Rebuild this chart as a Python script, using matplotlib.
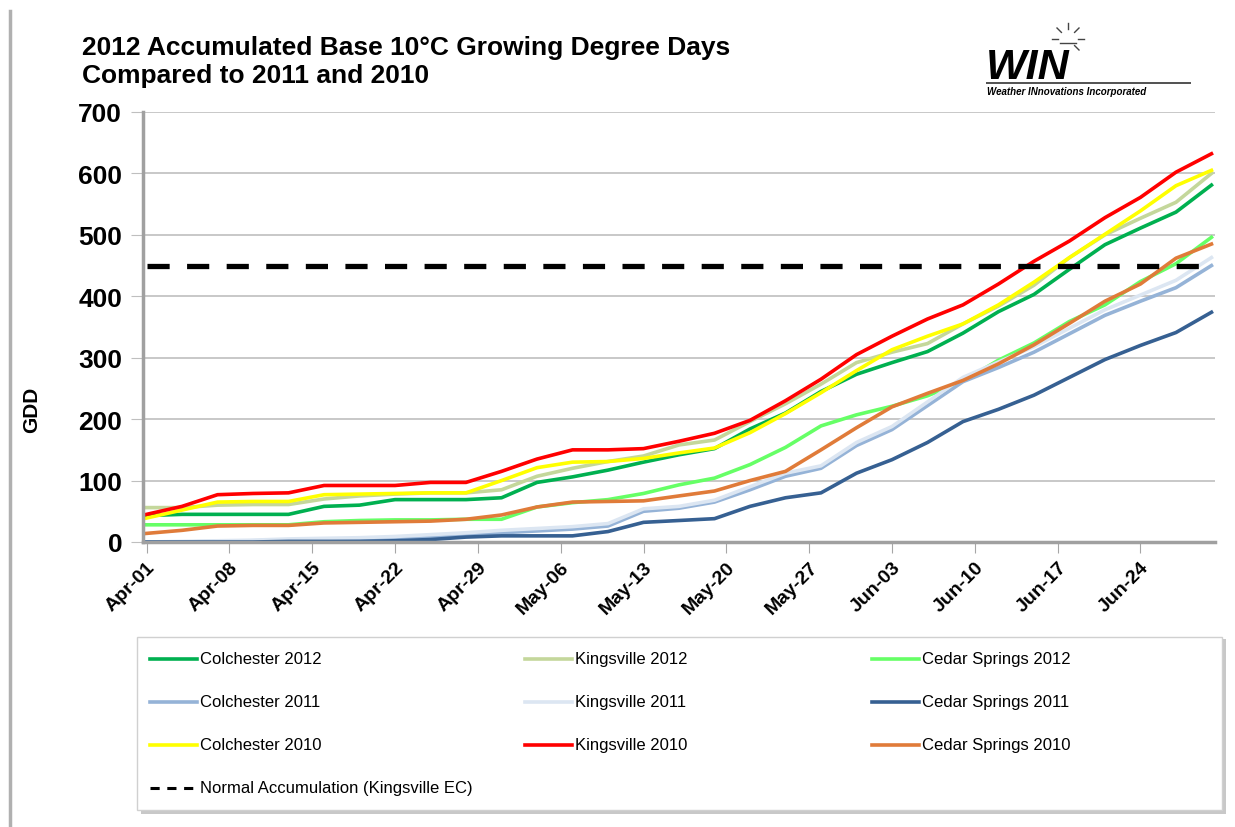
import matplotlib
matplotlib.use("Agg")
import matplotlib.pyplot as plt
from matplotlib.lines import Line2D
from matplotlib.patches import Rectangle

plt.rcParams['font.family'] = ['Liberation Sans', 'DejaVu Sans']

# days since Apr-01 (every third day)
days = [0, 3, 6, 9, 12, 15, 18, 21, 24, 27, 30, 33, 36, 39, 42, 45,
        48, 51, 54, 57, 60, 63, 66, 69, 72, 75, 78, 81, 84, 87, 90]

colchester_2012 = [43, 45, 45, 45, 45, 58, 60, 69, 69, 69, 72, 97, 106, 117, 130, 142,
                   152, 184, 210, 245, 273, 292, 310, 340, 375, 403, 444, 484, 511, 537, 581]
kingsville_2012 = [56, 56, 60, 61, 61, 70, 75, 78, 80, 80, 85, 107, 120, 131, 140, 158,
                   166, 196, 225, 257, 292, 309, 323, 355, 384, 418, 463, 500, 527, 553, 600]
cedar_2012 = [28, 28, 28, 28, 28, 33, 35, 36, 36, 37, 37, 57, 64, 69, 79, 93,
              104, 126, 154, 189, 207, 221, 238, 262, 296, 324, 359, 386, 424, 453, 496]
colchester_2011 = [0, 0, 1, 2, 3, 4, 5, 6, 8, 10, 15, 18, 21, 26, 50, 55,
                   65, 85, 107, 120, 157, 183, 222, 261, 284, 309, 339, 369, 392, 414, 450]
kingsville_2011 = [0, 1, 2, 3, 5, 6, 7, 9, 12, 15, 19, 22, 25, 30, 54, 58,
                   68, 90, 112, 124, 162, 188, 228, 268, 293, 318, 348, 378, 402, 426, 463]
cedar_2011 = [0, 0, 0, 0, 1, 1, 1, 2, 4, 8, 10, 10, 10, 17, 32, 35,
              38, 58, 72, 80, 112, 134, 162, 196, 216, 239, 268, 297, 320, 341, 374]
colchester_2010 = [39, 52, 65, 66, 66, 77, 78, 79, 80, 80, 100, 121, 130, 131, 136, 145,
                   153, 178, 209, 243, 279, 313, 335, 355, 386, 423, 463, 501, 539, 580, 605]
kingsville_2010 = [45, 58, 77, 79, 80, 92, 92, 92, 97, 97, 115, 135, 150, 150, 152, 164,
                   177, 198, 230, 265, 305, 335, 363, 386, 420, 457, 490, 528, 561, 602, 632]
cedar_2010 = [14, 19, 26, 27, 27, 31, 32, 33, 34, 37, 44, 57, 65, 66, 67, 75,
              83, 100, 115, 150, 186, 220, 242, 263, 290, 321, 356, 392, 420, 462, 485]
normal_gdd = 450

tick_days = [0, 7, 14, 21, 28, 35, 42, 49, 56, 63, 70, 77, 84]
tick_labels = ["Apr-01", "Apr-08", "Apr-15", "Apr-22", "Apr-29", "May-06", "May-13",
               "May-20", "May-27", "Jun-03", "Jun-10", "Jun-17", "Jun-24"]

series = [
    ("Colchester 2012", colchester_2012, "#00B050"),
    ("Kingsville 2012", kingsville_2012, "#C4D79B"),
    ("Cedar Springs 2012", cedar_2012, "#66FF66"),
    ("Colchester 2011", colchester_2011, "#95B3D7"),
    ("Kingsville 2011", kingsville_2011, "#DCE6F2"),
    ("Cedar Springs 2011", cedar_2011, "#366092"),
    ("Colchester 2010", colchester_2010, "#FFFF00"),
    ("Kingsville 2010", kingsville_2010, "#FF0000"),
    ("Cedar Springs 2010", cedar_2010, "#E07B39"),
]

W, H = 1235, 828
fig = plt.figure(figsize=(W / 100, H / 100), dpi=100)
ax = fig.add_axes([143 / W, 1 - 543 / H, (1215 - 143) / W, (543 - 113) / H])

for name, vals, col in series:
    ax.plot(days, vals, color=col, lw=2.6, solid_joinstyle='round')
ax.plot([days[0], days[-1]], [normal_gdd, normal_gdd], color='black', lw=3.8,
        dashes=(4.2, 3.3))

ax.set_xlim(-0.3, 90.3)
ax.set_ylim(0, 700)
ax.set_yticks(range(0, 701, 100))
ax.set_xticks(tick_days)
ax.set_xticklabels(tick_labels, rotation=45, ha='right', rotation_mode='anchor',
                   fontsize=14, fontweight='bold')
ax.tick_params(axis='y', labelsize=19, length=9, color='#BFBFBF', pad=6)
for lab in ax.get_yticklabels():
    lab.set_fontweight('bold')
ax.tick_params(axis='x', length=8, color='#A6A6A6', pad=4)
ax.grid(axis='y', color='#BFBFBF', lw=1.2)
ax.set_axisbelow(True)
for s in ['top', 'right']:
    ax.spines[s].set_visible(False)
for s in ['left', 'bottom']:
    ax.spines[s].set_color('#A0A0A0')
    ax.spines[s].set_linewidth(2.5)
ax.set_ylabel("GDD", fontsize=15, fontweight='bold')
ax.yaxis.set_label_coords(-0.095, 0.31)

# titles
fig.text(82 / W, 1 - 55 / H, "2012 Accumulated Base 10°C Growing Degree Days",
         fontsize=19, fontweight='bold', va='baseline')
fig.text(82 / W, 1 - 83 / H, "Compared to 2011 and 2010",
         fontsize=19, fontweight='bold', va='baseline')

# logo
fig.text(986 / W, 1 - 79 / H, "WIN", fontsize=31, fontweight='bold', style='italic',
         va='baseline')
fig.add_artist(Rectangle((986 / W, 1 - 85 / H), 205 / W, 2.5 / H, color='#555555', lw=0))
fig.text(987 / W, 1 - 95 / H, "Weather INnovations Incorporated", fontsize=7,
         fontweight='bold', style='italic', va='baseline')
sx, sy = 1068, 40
fig.add_artist(Line2D([(sx - 8) / W, (sx + 8) / W], [1 - (sy + 4) / H, 1 - (sy + 4) / H],
                      color='#444444', lw=1))
for dx, dy in [(0, -16), (11, -11), (16, 0), (11, 11), (-11, -11), (-16, 0)]:
    fig.add_artist(Line2D([(sx + dx * 0.6) / W, (sx + dx) / W],
                          [1 - (sy + dy * 0.6) / H, 1 - (sy + dy) / H],
                          color='#444444', lw=1))

# left page edge
fig.add_artist(Line2D([10 / W, 10 / W], [0, 1 - 12 / H], color='#B0B0B0', lw=2.5))

# legend box
fig.add_artist(Rectangle((141 / W, 1 - 815 / H), 1085 / W, 175 / H, facecolor='#C8C8C8',
                         edgecolor='none'))
fig.add_artist(Rectangle((137 / W, 1 - 811 / H), 1085 / W, 173 / H, facecolor='white',
                         edgecolor='#D0D0D0', lw=1))
col_x = [150, 525, 872]
row_y = [660, 703, 746]
for i, (name, vals, col) in enumerate(series):
    x0 = col_x[i % 3]
    y0 = row_y[i // 3]
    fig.add_artist(Line2D([x0 / W, (x0 + 47) / W], [1 - y0 / H, 1 - y0 / H], color=col, lw=2.6))
    fig.text((x0 + 50) / W, 1 - y0 / H, name, fontsize=12, va='center')
fig.add_artist(Line2D([150 / W, 197 / W], [1 - 789 / H, 1 - 789 / H], color='black', lw=2.2,
                      dashes=(3, 2.5)))
fig.text(200 / W, 1 - 789 / H, "Normal Accumulation (Kingsville EC)", fontsize=12, va='center')

fig.savefig("out.png", dpi=100)
